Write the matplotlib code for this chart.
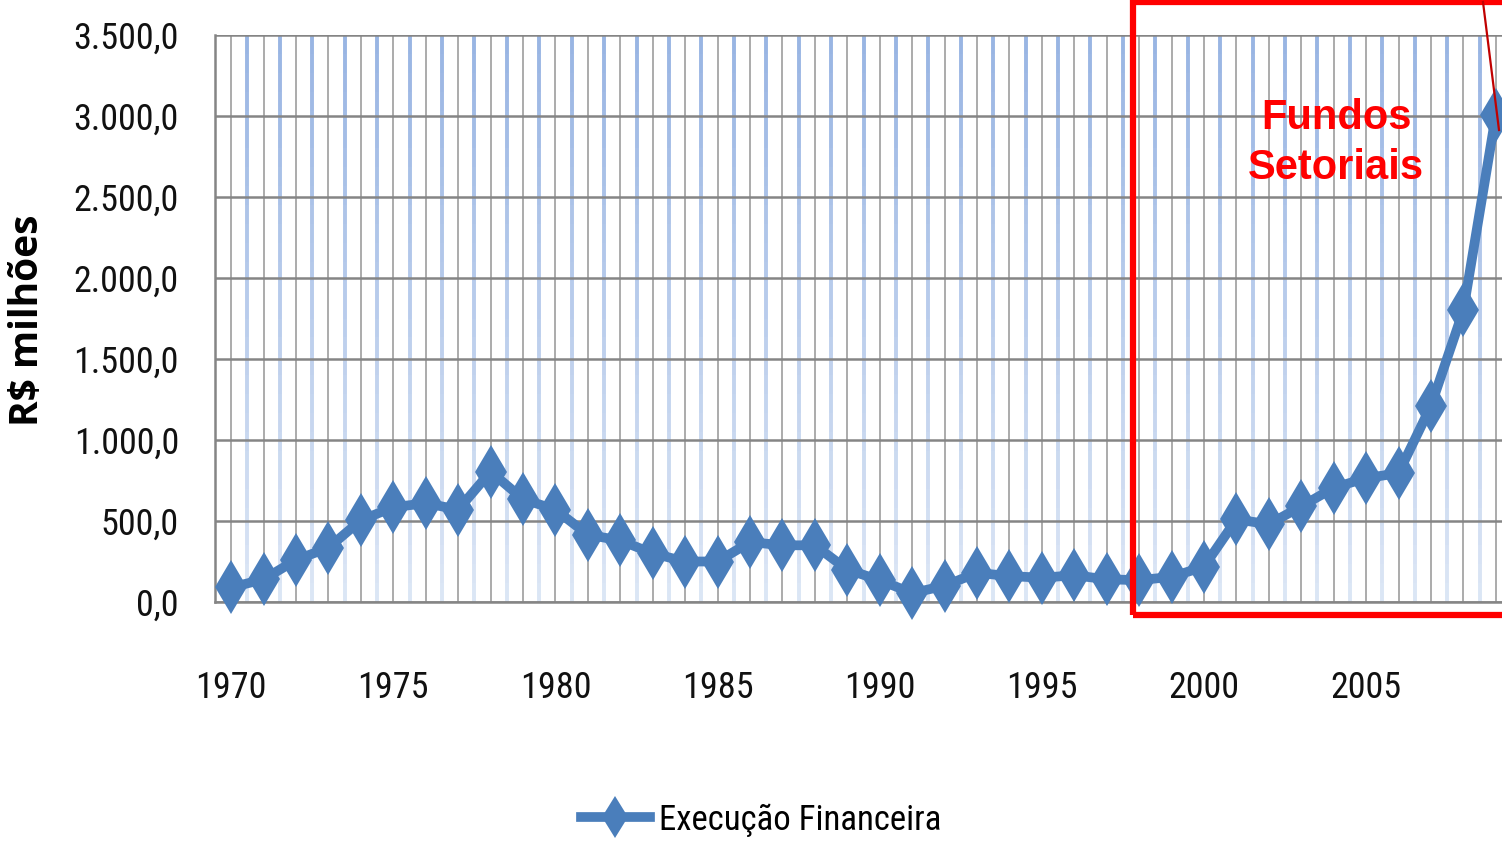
import matplotlib
matplotlib.use("Agg")
import matplotlib.pyplot as plt
from matplotlib.patches import Rectangle
from matplotlib.lines import Line2D
from matplotlib.collections import LineCollection
from matplotlib.ticker import FuncFormatter
import numpy as np

years = list(range(1970, 2010))
values = [90, 140, 260, 335, 505, 585, 610, 570, 805, 635,
          570, 415, 380, 300, 250, 250, 370, 350, 350, 200,
          135, 55, 100, 180, 160, 150, 165, 140, 135, 155,
          218, 510, 480, 590, 705, 765, 795, 1210, 1800, 3005]
series_name = "Execução Financeira"
y_label = "R$ milhões"
annotation = "Fundos\nSetoriais"
xtick_years = [1970, 1975, 1980, 1985, 1990, 1995, 2000, 2005]
yticks = [0, 500, 1000, 1500, 2000, 2500, 3000, 3500]

narrow = ['Roboto Condensed', 'DejaVu Sans']

W, H = 1502, 841
fig = plt.figure(figsize=(W / 100, H / 100), dpi=100)
ax = fig.add_axes([215 / W, 1 - 602 / H, (1512 - 215) / W, (602 - 35) / H])
ax.set_xlim(1969.5, 2009.5)
ax.set_ylim(0, 3500)

# gray year grid lines
for yr in years:
    ax.axvline(yr, color='#ababab', lw=1.4, zorder=1)

# light blue half-year lines with a top-to-bottom fade
n_seg = 30
edges = np.linspace(3500, 0, n_seg + 1)
top_c = np.array([0.60, 0.71, 0.89])
bot_c = np.array([0.86, 0.90, 0.96])
segs, cols = [], []
for yr in years:
    for i in range(n_seg):
        segs.append([(yr + 0.5, edges[i]), (yr + 0.5, edges[i + 1])])
        t = i / (n_seg - 1)
        cols.append(tuple(top_c * (1 - t) + bot_c * t))
ax.add_collection(LineCollection(segs, colors=cols, linewidths=2.8, zorder=1.2))

for yv in yticks:
    ax.axhline(yv, color='#858585', lw=1.8, zorder=1.5)

for s in ['top', 'right']:
    ax.spines[s].set_visible(False)
for s in ['left', 'bottom']:
    ax.spines[s].set_color('#858585')
    ax.spines[s].set_linewidth(1.8)

line, = ax.plot(years, values, color='#4a7ebb', lw=7, marker='d', markersize=27,
                markeredgewidth=0, zorder=3, clip_on=False, label=series_name)

ax.set_yticks(yticks)
ax.yaxis.set_major_formatter(FuncFormatter(
    lambda v, p: f"{v:,.1f}".replace(',', 'X').replace('.', ',').replace('X', '.')))
ax.set_xticks(xtick_years)
ax.set_xticklabels([str(y) for y in xtick_years])
ax.tick_params(axis='both', length=0, labelsize=26, labelcolor='#111111')
ax.tick_params(axis='x', pad=49)
ax.tick_params(axis='y', pad=26)
for lab in ax.get_xticklabels() + ax.get_yticklabels():
    lab.set_family(narrow)

fig.text(28 / W, 1 - 320 / H, y_label, rotation=90, ha='center', va='center',
         fontsize=28, fontweight='bold', family=['Open Sans', 'DejaVu Sans'])

fig.add_artist(Rectangle((1133 / W, 1 - 615 / H), (1520 - 1133) / W, 613 / H,
                         transform=fig.transFigure, fill=False, edgecolor='#ff0000',
                         lw=4.5, zorder=10))
fig.add_artist(Line2D([1483 / W, 1499 / W], [1 - 2 / H, 1 - 130 / H],
                      transform=fig.transFigure, color='#c00000', lw=1.6, zorder=10))
fig.text(1336 / W, 1 - 143 / H, annotation, ha='center', va='center', color='#ff0000',
         fontsize=30, fontweight='bold', family=['Liberation Sans', 'DejaVu Sans'],
         linespacing=1.32)

fig.legend(handles=[line], loc='center', bbox_to_anchor=(761 / W, 1 - 820 / H),
           frameon=False, handlelength=2.0, handletextpad=0.25,
           prop={'family': narrow, 'size': 25}, markerscale=0.8)

fig.savefig('out.png', dpi=100)
